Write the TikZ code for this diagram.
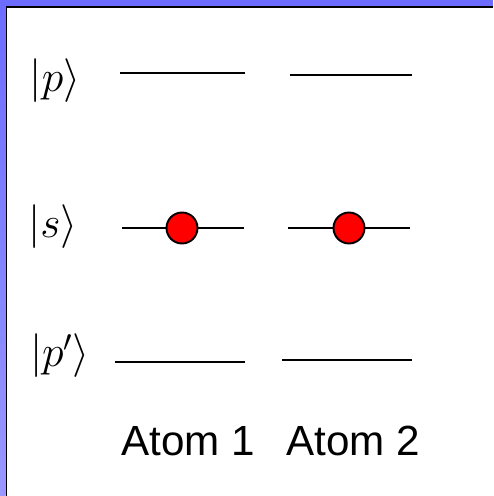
\documentclass[tikz,border=0pt]{standalone}
\usepackage{amsmath}
\usepackage{fontspec}
\setsansfont{Liberation Sans}
\usepackage{tikz}
\usetikzlibrary{positioning}

\definecolor{bandtop}{RGB}{108,108,255}
\definecolor{bandbot}{RGB}{152,152,255}

\begin{document}
\begin{tikzpicture}[
  level/.style={line width=1.1pt},
  electron/.style={draw, circle, fill=red, line width=1.1pt, minimum size=0.62cm, inner sep=0pt},
  ket/.style={font=\fontsize{23}{27}\selectfont},
  atomlabel/.style={font=\sffamily\fontsize{24}{28}\selectfont}]

\useasboundingbox (0,0) rectangle (9.86,9.92);

% --- Frame ---
\fill[bandtop] (0,9.80) rectangle (9.86,9.92);
\shade[top color=bandtop, bottom color=bandbot] (0,0) rectangle (0.11,9.92);
\draw[line width=1.1pt] (9.86,9.78) -- (0.13,9.78) -- (0.13,0);

% --- State labels ---
\node[ket] (ketp) at (1.10, 8.30) {$|p\rangle$};
\node[ket] (kets) at (1.06, 5.38) {$|s\rangle$};
\node[ket] (ketpp) at (1.20, 2.80) {$|p'\rangle$};

% --- Level ends ---
\coordinate (p1a) at (2.40, 8.46);
\coordinate (p1b) at (4.90, 8.46);
\coordinate (p2a) at (5.80, 8.42);
\coordinate (p2b) at (8.24, 8.42);
\coordinate (s1a) at (2.44, 5.36);
\coordinate (s1b) at (4.88, 5.36);
\coordinate (s2a) at (5.76, 5.36);
\coordinate (s2b) at (8.20, 5.36);
\coordinate (q1a) at (2.30, 2.68);
\coordinate (q1b) at (4.90, 2.68);
\coordinate (q2a) at (5.64, 2.72);
\coordinate (q2b) at (8.24, 2.72);

% --- Levels ---
\draw[level] (p1a) -- (p1b);
\draw[level] (p2a) -- (p2b);
\draw[level] (s1a) -- (s1b);
\draw[level] (s2a) -- (s2b);
\draw[level] (q1a) -- (q1b);
\draw[level] (q2a) -- (q2b);

% --- Electrons ---
\node[electron] (e1) at (3.64, 5.36) {};
\node[electron] (e2) at (6.98, 5.36) {};

% --- Atom labels ---
\node[atomlabel] (atom1) at (3.76, 1.10) {Atom 1};
\node[atomlabel] (atom2) at (7.06, 1.10) {Atom 2};

\end{tikzpicture}
\end{document}
